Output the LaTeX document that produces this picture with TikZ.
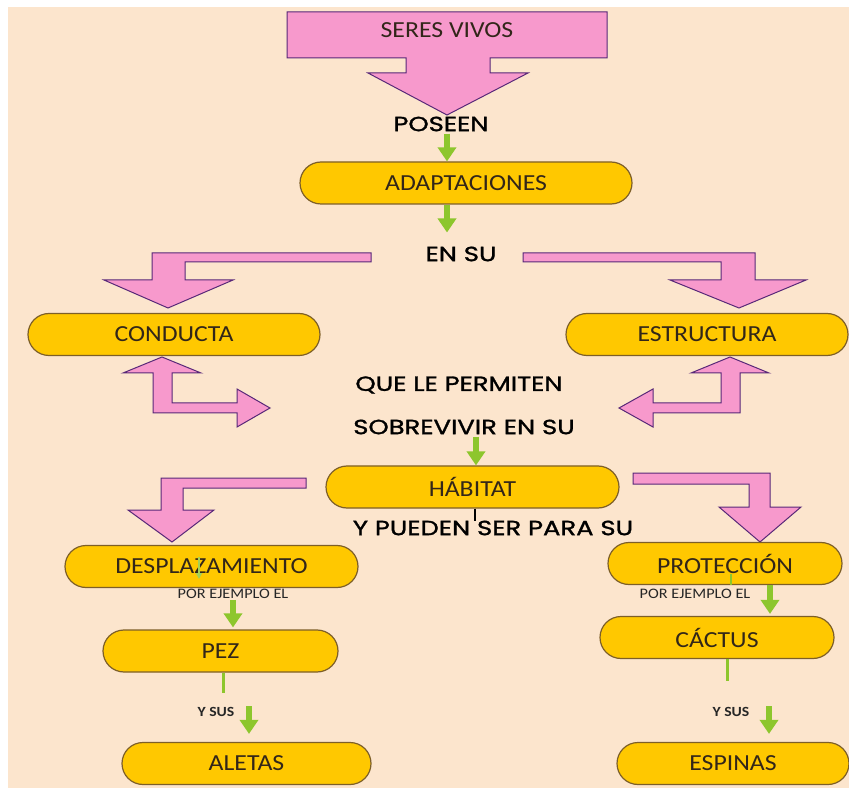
\documentclass[tikz,border=0pt]{standalone}
\usepackage{fontspec}
\usepackage{tikz}
\usetikzlibrary{arrows.meta}
\newfontfamily\capfont[FakeStretch=1.12]{Carlito}
\newfontfamily\linkfont[FakeStretch=1.26,FakeBold=1.4]{Poppins}
\definecolor{peach}{RGB}{252,229,205}
\definecolor{pinkfill}{RGB}{247,153,204}
\definecolor{pinkline}{RGB}{88,40,120}
\definecolor{capfill}{RGB}{255,200,0}
\definecolor{capline}{RGB}{125,95,40}
\definecolor{captext}{RGB}{50,38,25}
\definecolor{leaf}{RGB}{141,198,45}

\begin{document}
\begin{tikzpicture}[x=1pt,y=-1pt,
    capsule/.style={draw=capline,fill=capfill,line width=1.2pt,rounded corners=21pt,minimum height=42pt,inner sep=0pt,text=captext,font=\capfont\fontsize{23}{25}\selectfont},
    blockarrow/.style={draw=pinkline,fill=pinkfill,line width=1pt,line join=miter},
    linktext/.style={inner sep=2pt,text=black,font=\linkfont\fontsize{20.5}{22}\selectfont},
    smalltext/.style={inner sep=1pt,text=black!85,font=\capfont\fontsize{14.5}{16}\selectfont},
    greenarrow/.style={draw=leaf,line width=6pt,-{Triangle[width=18pt,length=14pt]}},
    greenline/.style={draw=leaf,line width=3pt}]
    \useasboundingbox (0,0) rectangle (849,791);
    \fill[peach] (8,7) rectangle (849,788);

    % pink block arrows
    \draw[blockarrow] (287,12) -- (607,12) -- (607,58) -- (490,58) -- (490,73) -- (528,73) -- (447,115) -- (368,73) -- (406,73) -- (406,58) -- (287,58) -- cycle;
    \draw[blockarrow] (371,253) -- (152,253) -- (152,280) -- (104,280) -- (168,308) -- (233,280) -- (185,280) -- (185,262) -- (371,262) -- cycle;
    \draw[blockarrow] (523,253) -- (755,253) -- (755,280) -- (806,280) -- (739,308) -- (670,280) -- (721,280) -- (721,262) -- (523,262) -- cycle;
    \draw[blockarrow] (162,357) -- (201,373) -- (172,373) -- (172,403) -- (237,403) -- (237,389) -- (270,408) -- (237,427) -- (237,413) -- (153,413) -- (153,373) -- (123,373) -- cycle;
    \draw[blockarrow] (730,357) -- (769,373) -- (740,373) -- (740,413) -- (653,413) -- (653,427) -- (619,408) -- (653,389) -- (653,403) -- (721,403) -- (721,373) -- (691,373) -- cycle;
    \draw[blockarrow] (306,478) -- (161,478) -- (161,510) -- (128,510) -- (172,542) -- (214,510) -- (183,510) -- (183,488) -- (306,488) -- cycle;
    \draw[blockarrow] (633,473) -- (770,473) -- (770,507) -- (801,507) -- (760,542) -- (719,507) -- (749,507) -- (749,484) -- (633,484) -- cycle;

    \draw (447,30) node (seres) [text=captext,font=\capfont\fontsize{23}{25}\selectfont] {SERES VIVOS};
    \draw (441,124) node (poseen) [linktext] {POSEEN};
    \draw (466,183) node (adapt) [capsule,minimum width=332pt] {ADAPTACIONES};
    \draw (461,254) node (ensu) [linktext] {EN SU};
    \draw (174,334.5) node (conducta) [capsule,minimum width=292pt] {CONDUCTA};
    \draw (707,334.5) node (estructura) [capsule,minimum width=282pt] {ESTRUCTURA};
    \draw (459,385) node (quele) [linktext] {QUE LE PERMITEN};
    \draw (464,427) node (sobre) [linktext] {SOBREVIVIR EN SU};
    \draw (472.5,487) node (habitat) [capsule,minimum width=293pt] {HÁBITAT};
    \draw (493,528) node (pueden) [linktext] {Y PUEDEN SER PARA SU};
    \draw (211.5,566.5) node (desp) [capsule,minimum width=293pt] {DESPLAZAMIENTO};
    \draw (725,563.5) node (prot) [capsule,minimum width=234pt] {PROTECCIÓN};
    \draw (233,594) node (ejL) [smalltext] {POR EJEMPLO EL};
    \draw (695,594) node (ejR) [smalltext] {POR EJEMPLO EL};
    \draw (220.5,651) node (pez) [capsule,minimum width=235pt] {PEZ};
    \draw (717,637.5) node (cactus) [capsule,minimum width=234pt] {CÁCTUS};
    \draw (216,712) node (ysusL) [smalltext,font=\capfont\bfseries\fontsize{14}{16}\selectfont] {Y SUS};
    \draw (731,712) node (ysusR) [smalltext,font=\capfont\bfseries\fontsize{14}{16}\selectfont] {Y SUS};
    \draw (246.5,763.5) node (aletas) [capsule,minimum width=249pt] {ALETAS};
    \draw (733,763.5) node (espinas) [capsule,minimum width=232pt] {ESPINAS};

    % green links
    \draw[greenarrow] ([xshift=6pt]poseen.south) -- ([xshift=6pt]poseen.south |- adapt.north);
    \draw[greenarrow,shorten >=12pt] ([xshift=-19pt]adapt.south) -- ([xshift=-19pt]adapt.south |- ensu.north);
    \draw[greenarrow] ([xshift=12pt]sobre.south) -- ([xshift=12pt]sobre.south |- habitat.north);
    \draw[greenarrow,shorten >=2pt] (ejL.south) -- (ejL.south |- pez.north);
    \draw[greenarrow,shorten >=2pt] ([xshift=45pt]prot.south) -- ([xshift=45pt]prot.south |- cactus.north);
    \draw[greenarrow,shorten >=8pt] ([xshift=28.5pt]pez.south |- ysusL.north) -- ([xshift=28.5pt]pez.south |- aletas.north);
    \draw[greenarrow,shorten >=8pt] ([xshift=52pt]cactus.south |- ysusR.north) -- ([xshift=52pt]cactus.south |- espinas.north);
    \draw[greenline] ([xshift=2.5pt]pez.south) -- ++(0,20);
    \draw[greenline] ([xshift=10pt]cactus.south) -- ++(0,22);
    \draw[greenline,line width=2pt] ([xshift=6pt]prot.south) -- ++(0,-11);
    \draw[leaf!80,line width=1.5pt,-{Triangle[width=6pt,length=6pt]}] ([xshift=-12.5pt,yshift=9.5pt]desp.center) -- ++(0,22);
    \draw[line width=2pt] ([xshift=2.5pt]habitat.south) -- ++(0,12);
\end{tikzpicture}
\end{document}
